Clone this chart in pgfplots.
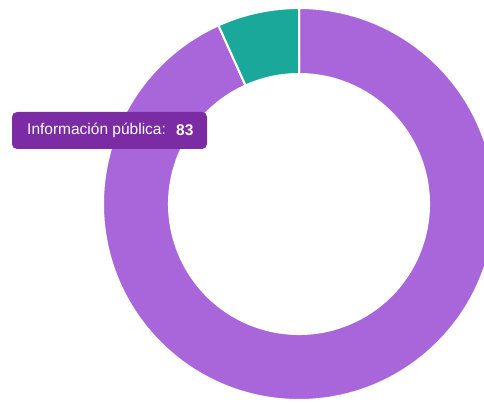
\documentclass[border=0pt]{standalone}
\usepackage{pgfplots}
\pgfplotsset{compat=1.18}
\usepackage{pgfplotstable}
\usepackage{fontspec}
\setmainfont{Liberation Sans}
\definecolor{slicepurple}{HTML}{A966DA}
\definecolor{sliceteal}{HTML}{1AA89B}
\definecolor{tipcol}{HTML}{7B2BA4}
\pgfplotstableread{
idx value
0 83
1 6
}\donutdata
\pgfplotstablegetelem{0}{value}\of\donutdata \let\vA\pgfplotsretval
\pgfplotstablegetelem{1}{value}\of\donutdata \let\vB\pgfplotsretval
\pgfmathsetmacro{\total}{\vA+\vB}
\pgfmathsetmacro{\frac}{\vA/\total}
\pgfmathsetmacro{\aS}{90}
\pgfmathsetmacro{\aM}{90-360*\frac}
\pgfmathsetmacro{\aE}{90-360}
\def\cx{299}\def\cy{198}\def\Ro{196}\def\Ri{130}
\begin{document}
\begin{tikzpicture}
\begin{axis}[
  width=484pt, height=402pt, scale only axis,
  xmin=0, xmax=484, ymin=0, ymax=402,
  hide axis, clip=true,
]
\addplot[draw=none] coordinates {(0,0) (484,402)};
% purple slice
\filldraw[fill=slicepurple, draw=white, line width=2pt]
  (axis cs:{\cx+\Ro*cos(\aS)},{\cy+\Ro*sin(\aS)})
  arc[start angle=\aS, end angle=\aM, radius=\Ro]
  -- (axis cs:{\cx+\Ri*cos(\aM)},{\cy+\Ri*sin(\aM)})
  arc[start angle=\aM, end angle=\aS, radius=\Ri] -- cycle;
% teal slice
\filldraw[fill=sliceteal, draw=white, line width=2pt]
  (axis cs:{\cx+\Ro*cos(\aM)},{\cy+\Ro*sin(\aM)})
  arc[start angle=\aM, end angle=\aE, radius=\Ro]
  -- (axis cs:{\cx+\Ri*cos(\aE)},{\cy+\Ri*sin(\aE)})
  arc[start angle=\aE, end angle=\aM, radius=\Ri] -- cycle;
% tooltip
\fill[tipcol, rounded corners=5pt] (axis cs:12,290) rectangle (axis cs:207,253);
\node[anchor=west, inner sep=0pt, text=white, font=\fontsize{15.5}{18}\selectfont] at (axis cs:27,271.5) {Información pública:};
\node[anchor=west, inner sep=0pt, text=white, font=\fontsize{15.5}{18}\selectfont\bfseries] at (axis cs:176,271.5) {83};
\end{axis}
\end{tikzpicture}
\end{document}
